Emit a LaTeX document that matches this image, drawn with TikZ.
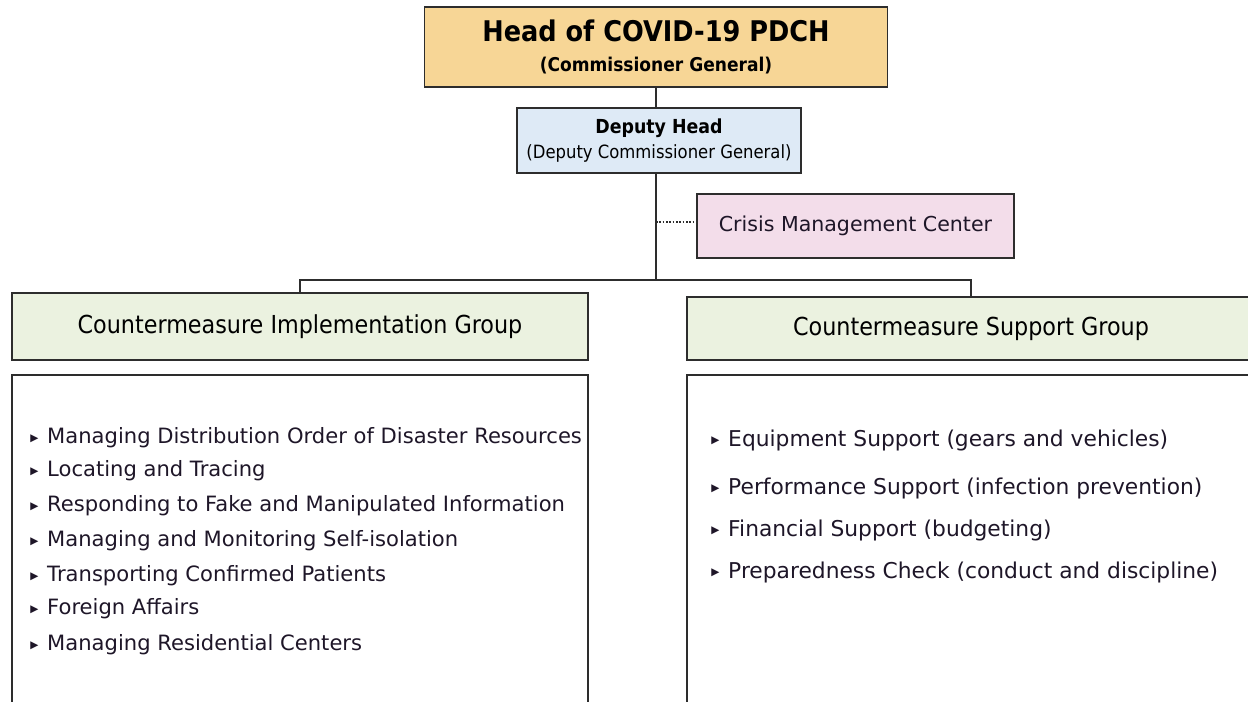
\documentclass[tikz,border=0pt]{standalone}
\usepackage{fontspec}
\setmainfont{DejaVu Sans}
\newfontfamily\condfont{DejaVu Sans Condensed}
\usepackage{xcolor}
\usepackage{tikz}
\definecolor{headfill}{RGB}{247,214,150}
\definecolor{deputyfill}{RGB}{222,234,246}
\definecolor{crisisfill}{RGB}{243,221,234}
\definecolor{groupfill}{RGB}{235,242,224}
\definecolor{linegray}{RGB}{45,45,45}
\definecolor{itemtext}{RGB}{30,22,40}
\newcommand{\tick}{\raisebox{1.2pt}{\fontsize{6}{6}\selectfont▶}\hspace{5pt}}

\begin{document}
\begin{tikzpicture}[x=0.02cm, y=-0.02cm,
	box/.style={draw=linegray, line width=0.9pt, rectangle, inner sep=0pt, align=center},
	item/.style={anchor=west, inner sep=0pt, text=itemtext, font=\fontsize{12}{14}\selectfont}]
			\useasboundingbox (0,0) rectangle (1248,702);
			\clip (0,0) rectangle (1248,702);
			% Các khung
			\node[box, fill=headfill, minimum width=9.26cm, minimum height=1.6cm] (head) at (656,47)
				{{\condfont\bfseries\fontsize{16.2}{20}\selectfont Head of COVID-19 PDCH}\\[5.5pt]
				 {\condfont\bfseries\fontsize{10.8}{13}\selectfont (Commissioner General)}};
			\node[box, fill=deputyfill, minimum width=5.68cm, minimum height=1.3cm] (deputy) at (659,140.5)
				{{\condfont\bfseries\fontsize{11}{13}\selectfont Deputy Head}\\[2.5pt]
				 {\condfont\fontsize{10.4}{12}\selectfont (Deputy Commissioner General)}};
			\node[box, fill=crisisfill, minimum width=6.34cm, minimum height=1.28cm, text=itemtext,
				font=\fontsize{11.7}{14}\selectfont] (crisis) at (855.5,226) {Crisis Management Center};
			\node[box, fill=groupfill, minimum width=11.52cm, minimum height=1.34cm,
				font=\condfont\fontsize{14.1}{17}\selectfont] (impl) at (300,326.5) {Countermeasure Implementation Group};
			\node[box, fill=groupfill, minimum width=11.36cm, minimum height=1.26cm,
				font=\condfont\fontsize{14.1}{17}\selectfont] (supp) at (971,328.5) {Countermeasure Support Group};
			\node[box, minimum width=11.52cm, minimum height=7cm, anchor=north] (impllist) at (300,374) {};
			\node[box, minimum width=11.36cm, minimum height=7cm, anchor=north] (supplist) at (971,374) {};
			% Các đường nối
			\coordinate (bus) at (656,280);
			\coordinate (tap) at (656,222);
			\draw[linegray, line width=0.9pt] (head.south -| bus) -- (deputy.north -| bus);
			\draw[linegray, line width=0.9pt] (deputy.south -| bus) -- (bus);
			\draw[linegray, line width=0.9pt] (impl.north) -- (impl.north |- bus) -| (supp.north);
			\draw[linegray, densely dotted, line width=0.9pt] (tap) -- (tap -| crisis.west);
			% Danh sách
			\foreach \t/\y in {Managing Distribution Order of Disaster Resources/438,
				Locating and Tracing/471, Responding to Fake and Manipulated Information/506,
				Managing and Monitoring Self-isolation/541, Transporting Confirmed Patients/576,
				Foreign Affairs/609, Managing Residential Centers/645}
			\node[item] at (30,\y) {\tick\t};
			\foreach \t/\y in {Equipment Support (gears and vehicles)/440,
				Performance Support (infection prevention)/488, Financial Support (budgeting)/530,
				Preparedness Check (conduct and discipline)/572}
			\node[item, font=\fontsize{12.4}{14}\selectfont] at (711,\y) {\tick\t};
\end{tikzpicture}
\end{document}
